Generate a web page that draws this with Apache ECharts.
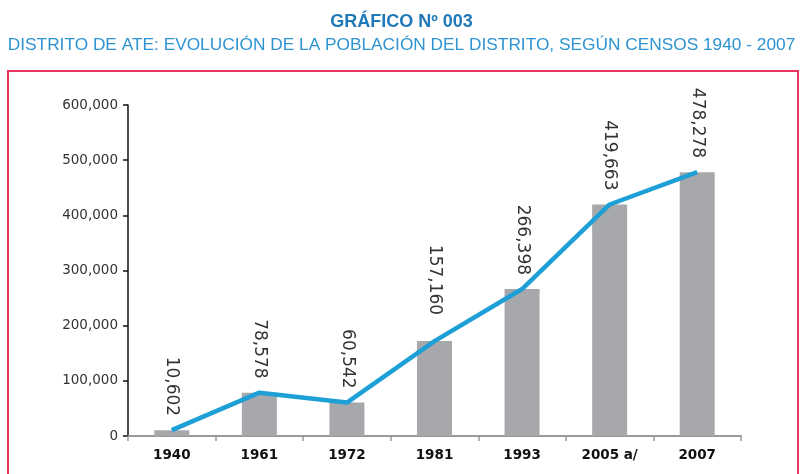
<!DOCTYPE html>
<html>
<head>
<meta charset="utf-8">
<script src="https://cdn.jsdelivr.net/npm/echarts@6/dist/echarts.min.js"></script>
<style>
  html, body { margin: 0; padding: 0; background: #fff; }
  #chartBox { width: 803px; height: 474px; }
</style>
</head>
<body>
<div id="chartBox"></div>
<script>
// censos
var years = ['1940', '1961', '1972', '1981', '1993', '2005 a/', '2007'];
// heights as drawn in the picture (1981 bar sits higher than its label says)
var poblacion = [10602, 78578, 60542, 172000, 266398, 419663, 478278];
var etiquetas = ['10,602', '78,578', '60,542', '157,160', '266,398', '419,663', '478,278'];
var yTicks = [0, 100000, 200000, 300000, 400000, 500000, 600000];

var chart = echarts.init(document.getElementById('chartBox'));

function fmtMiles(v) {
    return v === 0 ? '0' : v.toLocaleString('en-US');
}

var barData = poblacion.map(function (v, i) {
    var item = { value: v };
    if (i === 3) {
        item.label = { distance: 26 };
    }
    return item;
});

var option = {
    backgroundColor: '#fff',
    animation: false,
    title: [{
        text: 'GRÁFICO Nº 003',
        left: 'center',
        top: 8,
        textStyle: {
            fontFamily: 'Liberation Sans',
            fontWeight: 'bold',
            fontSize: 18,
            color: '#1f78b8'
        }
    }, {
        text: 'DISTRITO DE ATE: EVOLUCIÓN DE LA POBLACIÓN DEL DISTRITO, SEGÚN CENSOS 1940 - 2007',
        left: 'center',
        top: 32,
        textStyle: {
            fontFamily: 'Liberation Sans',
            fontWeight: 'normal',
            fontSize: 17.3,
            color: '#2e93d1'
        }
    }],
    graphic: [{
        type: 'rect',
        shape: { x: 8, y: 71, width: 790, height: 500 },
        style: { fill: 'none', stroke: '#e8375f', lineWidth: 2 },
        silent: true
    }],
    grid: {
        left: 128,
        right: 62,
        top: 105,
        bottom: 38
    },
    xAxis: {
        type: 'category',
        data: years,
        axisLine: { lineStyle: { color: '#999', width: 2 } },
        axisTick: { show: true, length: 5, lineStyle: { color: '#999', width: 1.5 } },
        axisLabel: {
            margin: 12,
            fontFamily: 'DejaVu Sans',
            fontWeight: 'bold',
            fontSize: 13.5,
            color: '#111'
        }
    },
    yAxis: {
        type: 'value',
        min: yTicks[0],
        max: yTicks[yTicks.length - 1],
        interval: 100000,
        splitLine: { show: false },
        axisLine: { show: true, lineStyle: { color: '#111', width: 1.5 } },
        axisTick: { show: true, length: 5, lineStyle: { color: '#111', width: 1.5 } },
        axisLabel: {
            margin: 10,
            fontFamily: 'DejaVu Sans',
            fontSize: 13.5,
            color: '#333',
            formatter: fmtMiles
        }
    },
    series: [{
        name: 'Población',
        type: 'bar',
        barWidth: 35,
        itemStyle: { color: '#a7a8ab' },
        label: {
            show: true,
            position: 'top',
            distance: 14,
            rotate: -90,
            align: 'right',
            verticalAlign: 'middle',
            fontFamily: 'DejaVu Sans',
            fontSize: 17,
            color: '#333',
            formatter: function (p) { return etiquetas[p.dataIndex]; }
        },
        data: barData
    }, {
        name: 'Tendencia',
        type: 'line',
        symbol: 'none',
        lineStyle: { color: '#1e9fd6', width: 4.5 },
        z: 5,
        data: poblacion
    }]
};

chart.setOption(option);
</script>
</body>
</html>
